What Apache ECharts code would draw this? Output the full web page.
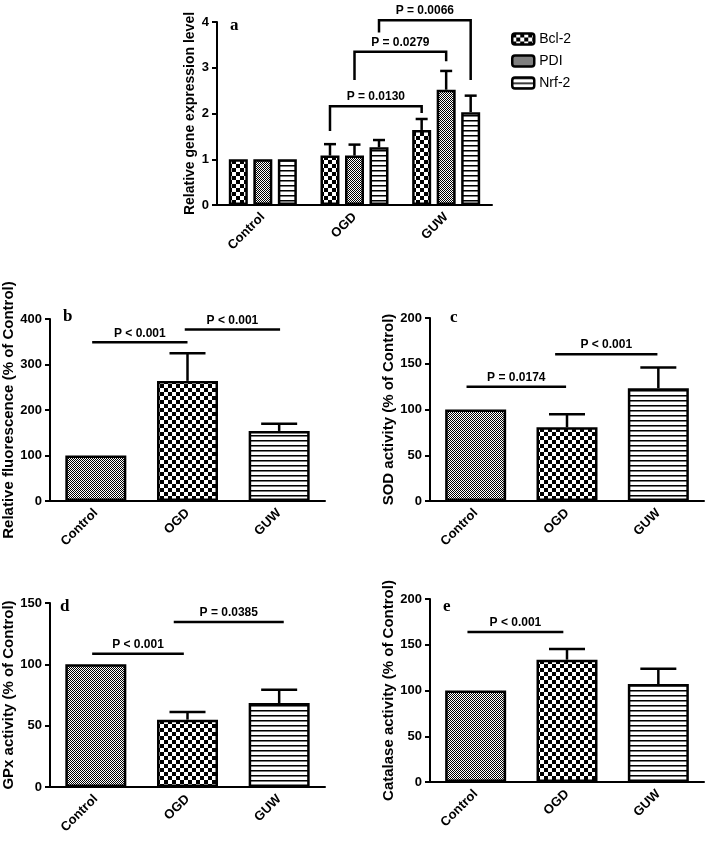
<!DOCTYPE html>
<html><head><meta charset="utf-8">
<script src="https://cdn.jsdelivr.net/npm/echarts@6/dist/echarts.min.js"></script>
<style>html,body{margin:0;padding:0;background:#fff}#c{width:709px;height:842px}</style>
</head><body><div id="c"></div>
<script>
// ---------- DATA ----------
const categories = ['Control', 'OGD', 'GUW'];

// Panel a: relative gene expression
const geneNames = ['Bcl-2', 'PDI', 'Nrf-2'];
const bcl2 = [1.0, 1.08, 1.64];
const bcl2Err = [null, 1.33, 1.88];
const pdi = [1.0, 1.08, 2.52];
const pdiErr = [null, 1.32, 2.93];
const nrf2 = [1.0, 1.26, 2.03];
const nrf2Err = [null, 1.42, 2.39];
const yTicksA = [0, 1, 2, 3, 4];

// Panel b: relative fluorescence
const fluor = [100, 264, 154];
const fluorErr = [null, 325, 170];
const yTicksB = [0, 100, 200, 300, 400];

// Panel c: SOD activity
const sod = [100, 80.5, 123.2];
const sodErr = [null, 94.7, 145.8];
const yTicksC = [0, 50, 100, 150, 200];

// Panel d: GPx activity
const gpx = [100, 54.9, 68.5];
const gpxErr = [null, 61.1, 79.3];
const yTicksD = [0, 50, 100, 150];

// Panel e: Catalase activity
const catalase = [100, 133.7, 107.1];
const catalaseErr = [null, 145.3, 123.8];
const yTicksE = [0, 50, 100, 150, 200];

// Significance annotations (x as [category, series] or fractional category position; y in data units)
const sigA = [
  { text: 'P = 0.0130', from: [1, 0], to: [2, 0], y: 2.16, yFrom: 1.62, yTo: 2.01 },
  { text: 'P = 0.0279', from: [1, 1], to: [2, 1], y: 3.35, yFrom: 2.73, yTo: 3.14 },
  { text: 'P = 0.0066', from: [1, 2], to: [2, 2], y: 4.04, yFrom: 3.77, yTo: 2.73 }
];
const sigB = [
  { text: 'P < 0.001', from: -0.04, to: 1.0, y: 349 },
  { text: 'P < 0.001', from: 0.97, to: 2.01, y: 377 }
];
const sigC = [
  { text: 'P = 0.0174', from: -0.1, to: 0.99, y: 125 },
  { text: 'P < 0.001', from: 0.87, to: 1.99, y: 160.5 }
];
const sigD = [
  { text: 'P < 0.001', from: -0.04, to: 0.96, y: 108.6 },
  { text: 'P = 0.0385', from: 0.85, to: 2.05, y: 134.5 }
];
const sigE = [
  { text: 'P < 0.001', from: -0.09, to: 0.96, y: 163.9 }
];

// ---------- STYLE ----------
const FONT = '"Liberation Sans", Arial, sans-serif';
const SERIF = '"Liberation Serif", "DejaVu Serif", serif';

function makePattern(w, h, draw) {
  const c = document.createElement('canvas');
  c.width = w; c.height = h;
  const g = c.getContext('2d');
  g.fillStyle = '#fff'; g.fillRect(0, 0, w, h);
  g.fillStyle = '#000';
  draw(g);
  return { image: c, repeat: 'repeat' };
}
const fine = makePattern(2, 2, g => { g.fillRect(0, 0, 1, 1); g.fillRect(1, 1, 1, 1); });
const coarse = makePattern(8, 8, g => { g.fillRect(0, 0, 4, 4); g.fillRect(4, 4, 4, 4); });
const stripes = makePattern(1, 5, g => { g.fillRect(0, 0, 1, 1); g.fillStyle = '#777'; g.fillRect(0, 1, 1, 1); });
const groupPatterns = [fine, coarse, stripes];   // Control, OGD, GUW
const genePatterns = [coarse, fine, stripes];    // Bcl-2, PDI, Nrf-2

const BAR_W_A = 19, BAR_GAP_A = 0.29;
const BAR_STEP_A = BAR_W_A * (1 + BAR_GAP_A);

const grids = [
  { left: 217, top: 22, width: 275, height: 183 },
  { left: 50, top: 319, width: 275, height: 182 },
  { left: 430, top: 318, width: 274, height: 183 },
  { left: 50, top: 603, width: 275, height: 184 },
  { left: 430, top: 599, width: 274, height: 183 }
];
const yNames = [
  'Relative gene expression level',
  'Relative fluorescence (% of Control)',
  'SOD activity (% of Control)',
  'GPx activity (% of Control)',
  'Catalase activity (% of Control)'
];
const yTicks = [yTicksA, yTicksB, yTicksC, yTicksD, yTicksE];
const nameGaps = [20, 34, 33, 34, 33];
const nameSizes = [14, 15, 15, 15, 15];
const letters = ['a', 'b', 'c', 'd', 'e'];
const letterPos = [[230, 17], [63, 308], [450, 309], [60, 598], [443, 598]];

const axisLineStyle = { color: '#000', width: 2 };

const xAxes = grids.map((g, i) => ({
  type: 'category', gridIndex: i, data: categories,
  axisLine: { lineStyle: axisLineStyle },
  axisTick: { alignWithLabel: true, length: 5, lineStyle: axisLineStyle },
  axisLabel: { rotate: 45, margin: 10, interval: 0, color: '#000', fontWeight: 'bold', fontSize: 13, fontFamily: FONT }
}));
const yAxes = grids.map((g, i) => {
  const t = yTicks[i];
  return {
    type: 'value', gridIndex: i, min: t[0], max: t[t.length - 1], interval: t[1] - t[0],
    name: yNames[i], nameLocation: 'middle', nameGap: nameGaps[i],
    nameTextStyle: { color: '#000', fontWeight: 'bold', fontSize: nameSizes[i], fontFamily: FONT },
    axisLine: { show: true, lineStyle: axisLineStyle },
    axisTick: { show: true, length: 5, lineStyle: axisLineStyle },
    splitLine: { show: false },
    axisLabel: { margin: 8, color: '#000', fontWeight: 'bold', fontSize: 13, fontFamily: FONT }
  };
});

function errRender(step, capHalf) {
  return function (params, api) {
    const i = api.value(0), v = api.value(1), e = api.value(2), s = api.value(3);
    const p0 = api.coord([i, v]);
    const p1 = api.coord([i, e]);
    const x = p0[0] + (s - 1) * step;
    const st = { stroke: '#000', lineWidth: 2.5 };
    return {
      type: 'group', children: [
        { type: 'line', shape: { x1: x, y1: p0[1], x2: x, y2: p1[1] }, style: st },
        { type: 'line', shape: { x1: x - capHalf, y1: p1[1], x2: x + capHalf, y2: p1[1] }, style: st }
      ]
    };
  };
}
function errData(vals, errs, s) {
  const out = [];
  vals.forEach((v, i) => { if (errs[i] != null) out.push([i, v, errs[i], s]); });
  return out;
}
function sigRender(list, step) {
  return function (params, api) {
    const s = list[params.dataIndex];
    const base = api.coord([0, s.y]);
    const band = api.size([1, 0])[0];
    const xOf = p => Array.isArray(p) ? base[0] + p[0] * band + (p[1] - 1) * step : base[0] + p * band;
    const x1 = xOf(s.from), x2 = xOf(s.to), yL = base[1];
    const pts = [];
    if (s.yFrom != null) pts.push([x1, api.coord([0, s.yFrom])[1]]);
    pts.push([x1, yL], [x2, yL]);
    if (s.yTo != null) pts.push([x2, api.coord([0, s.yTo])[1]]);
    return {
      type: 'group', children: [
        { type: 'polyline', shape: { points: pts }, style: { stroke: '#000', lineWidth: 2.5, fill: 'none' } },
        { type: 'text', style: { x: (x1 + x2) / 2, y: yL - 3, text: s.text, align: 'center', verticalAlign: 'bottom',
            fontSize: 12, fontWeight: 'bold', fontFamily: FONT, fill: '#000' } }
      ]
    };
  };
}

const series = [];
// Panel a bars
[bcl2, pdi, nrf2].forEach((vals, j) => {
  series.push({
    type: 'bar', name: geneNames[j], xAxisIndex: 0, yAxisIndex: 0, data: vals,
    barWidth: BAR_W_A, barGap: (BAR_GAP_A * 100) + '%',
    itemStyle: { color: genePatterns[j], borderColor: '#000', borderWidth: 2.5 }
  });
});
series.push({
  type: 'custom', xAxisIndex: 0, yAxisIndex: 0, z: 5,
  renderItem: errRender(BAR_STEP_A, 6), encode: { x: 0, y: [1, 2] },
  data: [].concat(errData(bcl2, bcl2Err, 0), errData(pdi, pdiErr, 1), errData(nrf2, nrf2Err, 2))
});
series.push({
  type: 'custom', xAxisIndex: 0, yAxisIndex: 0, z: 6, clip: false,
  renderItem: sigRender(sigA, BAR_STEP_A), encode: { x: 0, y: 1 },
  data: sigA.map(s => [0, s.y])
});

// Panels b-e
const panels = [
  [fluor, fluorErr, sigB],
  [sod, sodErr, sigC],
  [gpx, gpxErr, sigD],
  [catalase, catalaseErr, sigE]
];
panels.forEach((p, k) => {
  const idx = k + 1;
  series.push({
    type: 'bar', name: yNames[idx], xAxisIndex: idx, yAxisIndex: idx, barWidth: 61,
    data: p[0].map((v, i) => ({ value: v, itemStyle: { color: groupPatterns[i] } })),
    itemStyle: { borderColor: '#000', borderWidth: 2.5 }
  });
  series.push({
    type: 'custom', xAxisIndex: idx, yAxisIndex: idx, z: 5,
    renderItem: errRender(0, 18), encode: { x: 0, y: [1, 2] },
    data: errData(p[0], p[1], 1)
  });
  series.push({
    type: 'custom', xAxisIndex: idx, yAxisIndex: idx, z: 6, clip: false,
    renderItem: sigRender(p[2], 0), encode: { x: 0, y: 1 },
    data: p[2].map(s => [0, s.y])
  });
});

const chart = echarts.init(document.getElementById('c'), null, { renderer: 'canvas' });
chart.setOption({
  backgroundColor: '#fff',
  animation: false,
  grid: grids,
  xAxis: xAxes,
  yAxis: yAxes,
  legend: {
    data: geneNames, orient: 'vertical', left: 506, top: 27,
    icon: 'roundRect', itemWidth: 22, itemHeight: 11, itemGap: 8,
    itemStyle: { borderColor: '#000', borderWidth: 2.5 },
    textStyle: { color: '#000', fontSize: 14, fontFamily: FONT, lineHeight: 14 }
  },
  graphic: letters.map((l, i) => ({
    type: 'text', left: letterPos[i][0], top: letterPos[i][1],
    style: { text: l, fontSize: 17, fontWeight: 'bold', fontFamily: SERIF, fill: '#000' }
  })),
  series: series
});
</script></body></html>
